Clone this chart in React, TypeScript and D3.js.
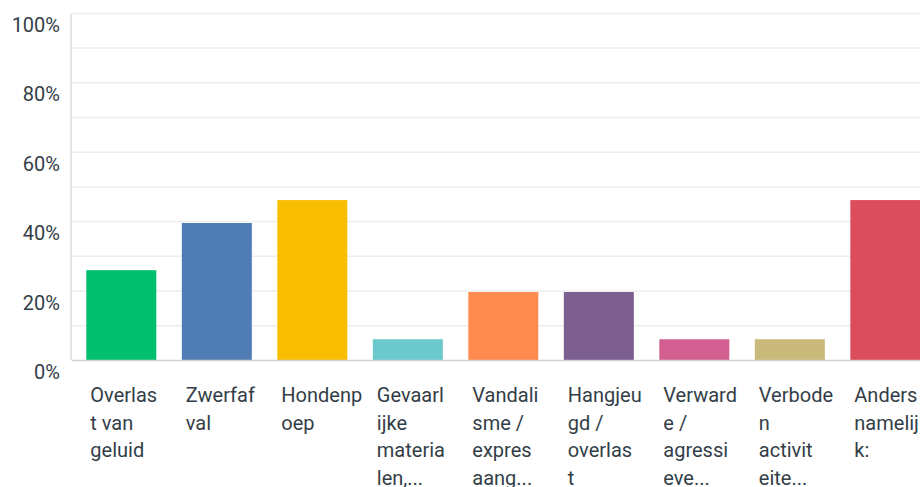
import React, { useEffect, useRef } from 'react'
import * as d3 from 'd3'

// answer categories, as shown (wrapped and truncated like in the picture)
const categories = [
  'Overlast van geluid',
  'Zwerfafval',
  'Hondenpoep',
  'Gevaarlijke materialen',
  'Vandalisme / expres aangebracht',
  'Hangjeugd / overlast',
  'Verwarde / agressieve',
  'Verboden activiteiten',
  'Anders, namelijk:',
]
const tickLines = [
  ['Overlas', 't van', 'geluid'],
  ['Zwerfaf', 'val'],
  ['Hondenp', 'oep'],
  ['Gevaarl', 'ijke', 'materia', 'len,...'],
  ['Vandali', 'sme /', 'expres', 'aang...'],
  ['Hangjeu', 'gd /', 'overlas', 't'],
  ['Verward', 'e /', 'agressi', 'eve...'],
  ['Verbode', 'n', 'activit', 'eite...'],
  ['Anders', 'namelijk', 'k:'],
]
const values = [0.26, 0.396, 0.462, 0.061, 0.197, 0.197, 0.061, 0.061, 0.462]
const colors = ['#00bf6f', '#507cb6', '#f9be00', '#6bc8cd', '#ff8b4f', '#7d5e90', '#d25f90', '#c9b97a', '#db4d5c']
const yTicks = [0, 0.2, 0.4, 0.6, 0.8, 1]
const gridTicks = [0.1, 0.2, 0.3, 0.4, 0.5, 0.6, 0.7, 0.8, 0.9, 1]

const W = 920
const H = 487

const App = () => {
  const ref = useRef<SVGSVGElement>(null)

  useEffect(() => {
    const svg = d3.select(ref.current)
    svg.selectAll('*').remove()

    const left = 72
    const x = d3
      .scaleBand()
      .domain(categories)
      .range([left, left + 95.5 * 9.033])
      .paddingInner(0.267)
      .paddingOuter(0.15)
    const y = d3.scaleLinear().domain([0, 1]).range([360.4, 13.4])

    // grid
    svg
      .append('g')
      .selectAll('line')
      .data(gridTicks)
      .enter()
      .append('line')
      .attr('x1', left)
      .attr('x2', W)
      .attr('y1', (d) => y(d))
      .attr('y2', (d) => y(d))
      .attr('stroke', '#ededed')
      .attr('stroke-width', 1.5)

    svg
      .append('line')
      .attr('x1', 71)
      .attr('x2', 71)
      .attr('y1', y(1))
      .attr('y2', y(0))
      .attr('stroke', '#dcdcdc')
      .attr('stroke-width', 1.5)

    // y labels
    svg
      .append('g')
      .selectAll('text')
      .data(yTicks)
      .enter()
      .append('text')
      .attr('x', 60)
      .attr('y', (d) => y(d) + 18.5)
      .attr('text-anchor', 'end')
      .attr('font-family', 'Roboto, sans-serif')
      .attr('font-size', 20)
      .attr('fill', '#333e48')
      .text((d) => `${Math.round(d * 100)}%`)

    // bars
    svg
      .append('g')
      .selectAll('rect')
      .data(values)
      .enter()
      .append('rect')
      .attr('x', (d, i) => x(categories[i])!)
      .attr('width', x.bandwidth())
      .attr('y', (d) => y(d))
      .attr('height', (d) => y(0) - y(d))
      .attr('fill', (d, i) => colors[i])

    svg
      .append('line')
      .attr('x1', left)
      .attr('x2', W)
      .attr('y1', y(0))
      .attr('y2', y(0))
      .attr('stroke', '#cfcfcf')
      .attr('stroke-width', 1.5)

    // category labels
    const lbl = svg
      .append('g')
      .selectAll('text')
      .data(categories)
      .enter()
      .append('text')
      .attr('x', (d) => x(d)! + 4)
      .attr('y', 402)
      .attr('font-family', 'Roboto, sans-serif')
      .attr('font-size', 20)
      .attr('fill', '#333e48')
    lbl
      .selectAll('tspan')
      .data((d, i) => tickLines[i])
      .enter()
      .append('tspan')
      .attr('x', function () {
        return (this as any).parentNode.getAttribute('x')
      })
      .attr('dy', (d, i) => (i === 0 ? 0 : 27.5))
      .text((d) => d)
  }, [])

  return (
    <svg
      ref={ref}
      width={W}
      height={H}
      style={{ position: 'fixed', left: 0, top: 0, background: '#fff' }}
    />
  )
}

export default App
